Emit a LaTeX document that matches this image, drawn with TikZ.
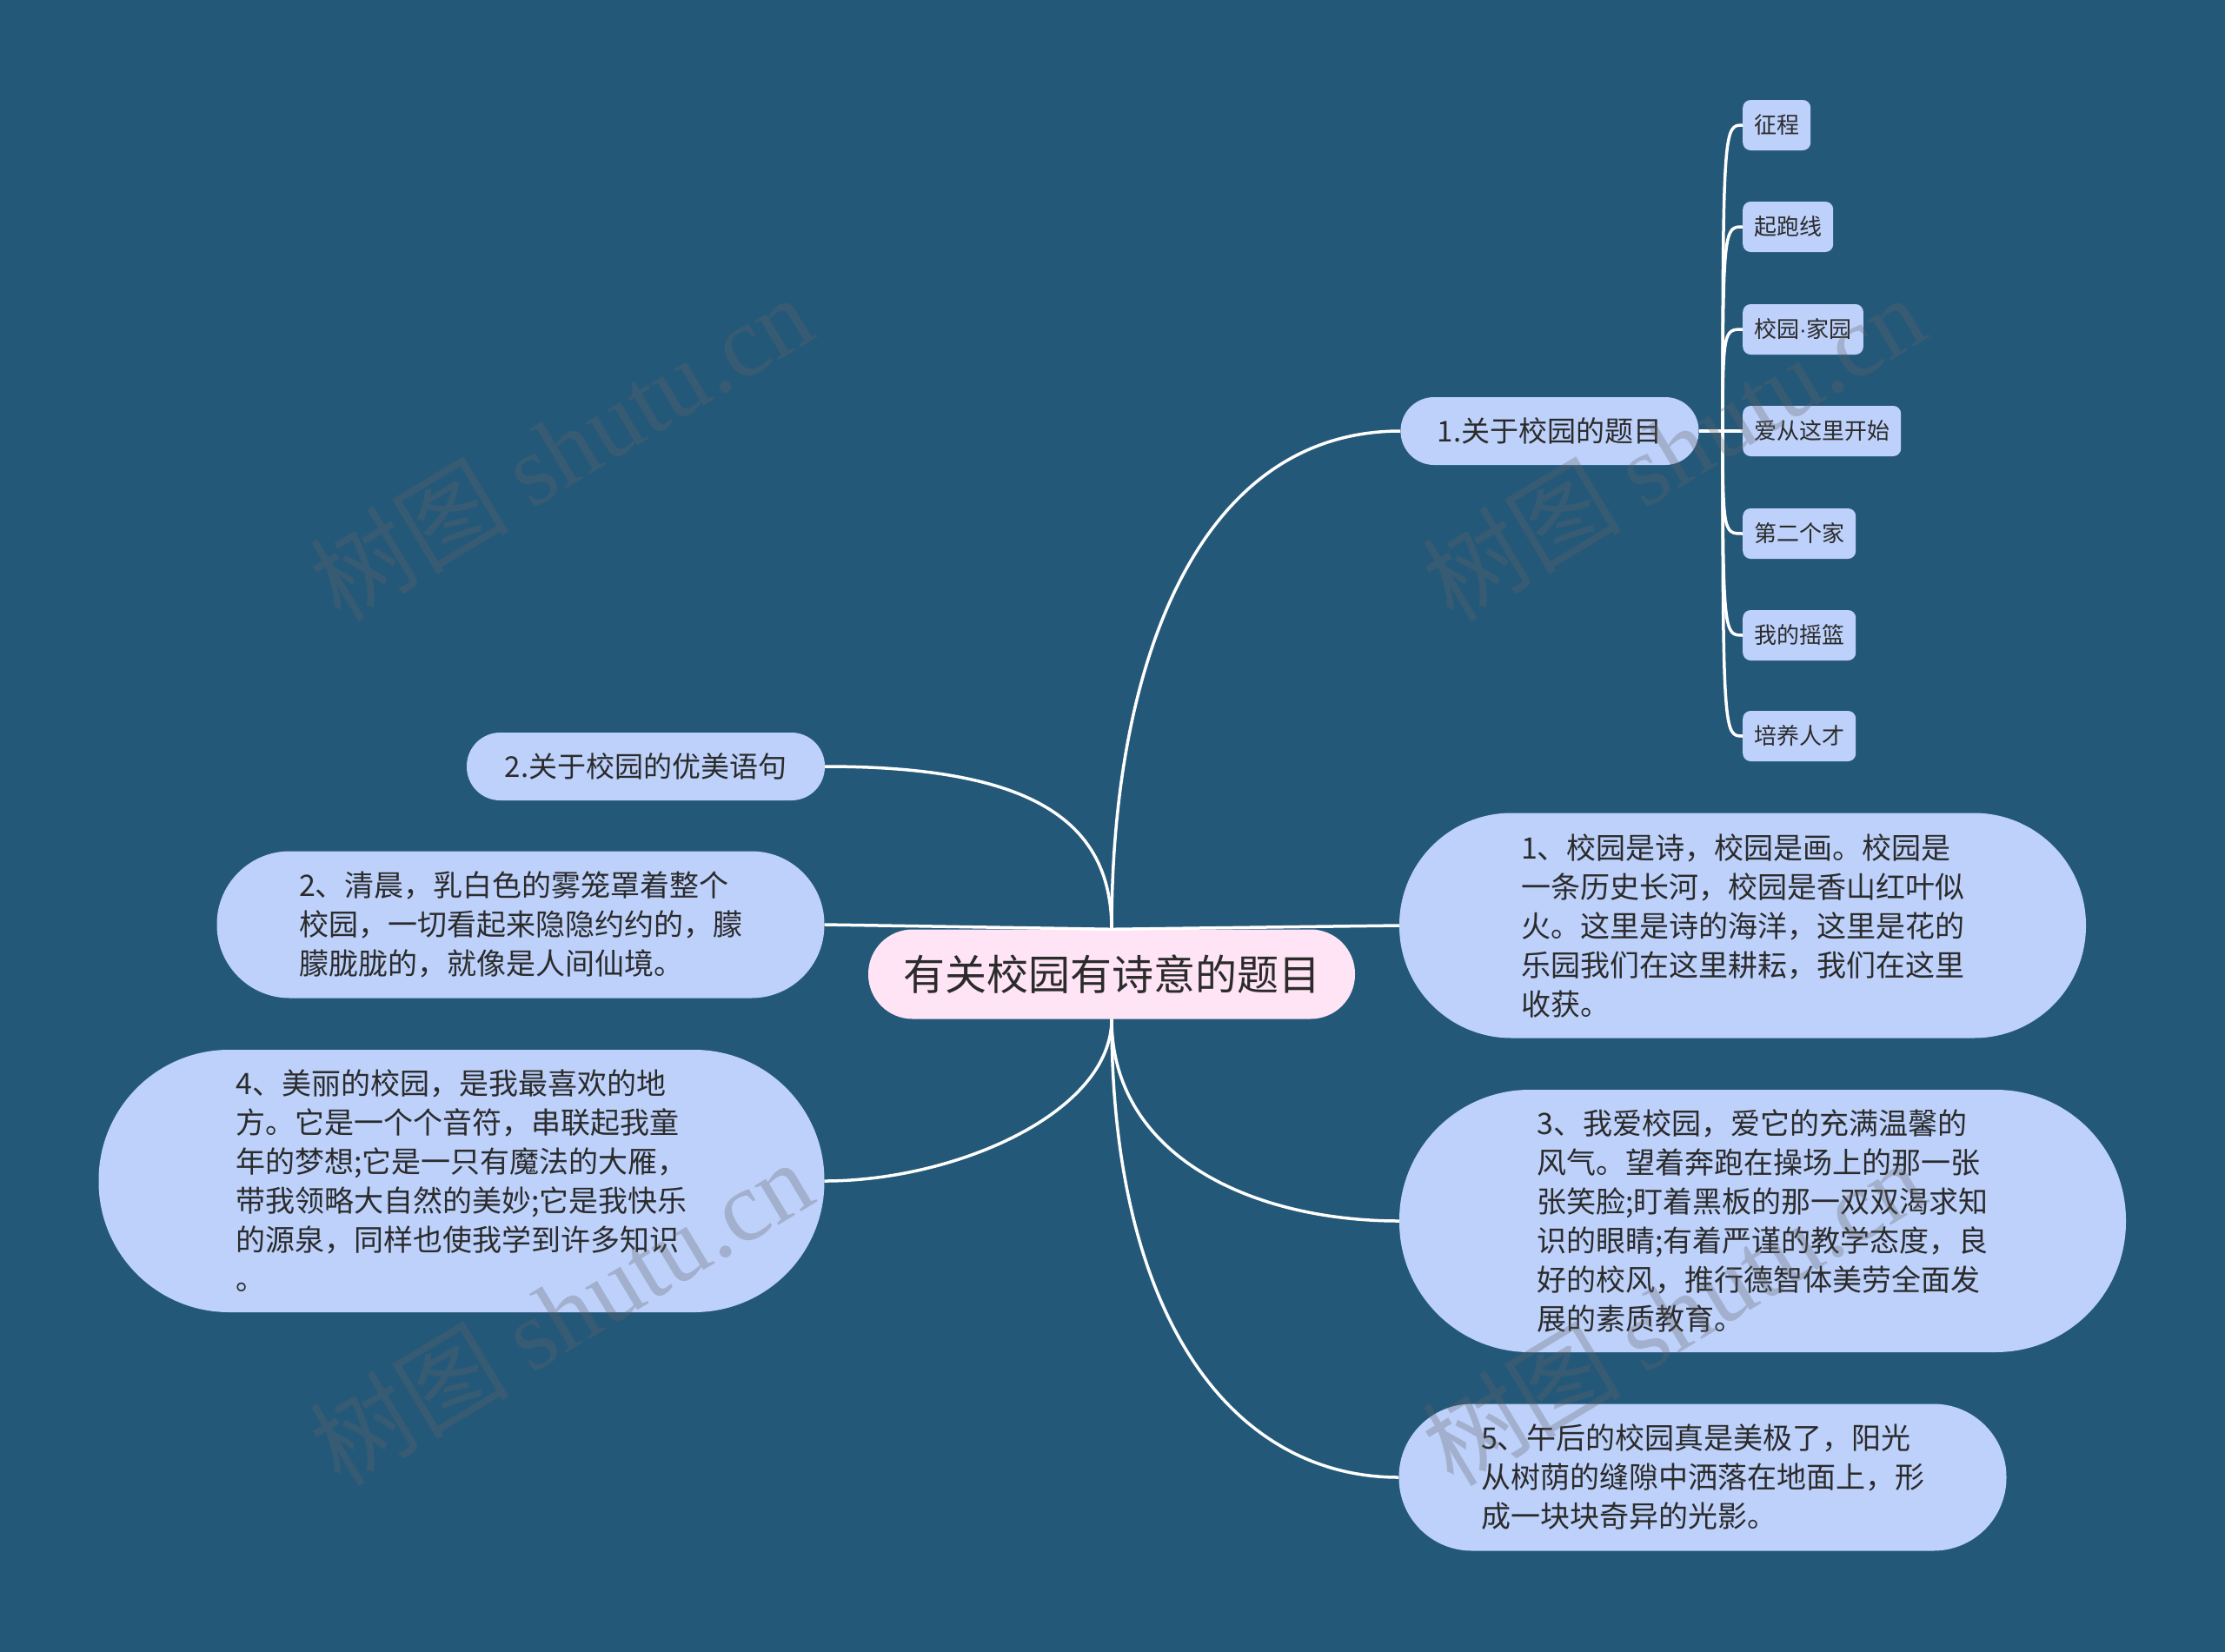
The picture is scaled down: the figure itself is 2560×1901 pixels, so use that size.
\documentclass[tikz,border=0pt]{standalone}
\usepackage{fontspec}
\setmainfont{Noto Sans CJK SC}
\newfontfamily\wmserif{Liberation Serif}
\newfontfamily\latinsans{Liberation Sans}
\definecolor{bgc}{HTML}{245879}
\definecolor{subfill}{HTML}{BDD1FB}
\definecolor{mainfill}{HTML}{FFE4F5}
\definecolor{txt}{HTML}{2B2B2B}
\definecolor{wm}{HTML}{646464}
\newcommand{\myfs}[2]{\fontsize{#1}{#2}\selectfont}
\begin{document}
\begin{tikzpicture}[x=1pt,y=-1pt,
  conn/.style={draw=white,line width=3.5pt},
  basebox/.style={inner sep=0pt,text=txt,align=left,fill=subfill},
  topicbox/.style={basebox,fill=mainfill,minimum width=560pt,minimum height=103pt,rounded corners=51pt,font=\myfs{48}{58}},
  headbox/.style={basebox,minimum height=78pt,rounded corners=38.5pt,font=\myfs{33}{40}},
  leafbox/.style={basebox,anchor=west,minimum height=58pt,inner xsep=13pt,rounded corners=9pt,font=\myfs{26}{30}},
  bigbox/.style={basebox,font=\myfs{34}{45}},
  wmark/.style={rotate=31,text=wm,opacity=0.3,font=\myfs{115}{125}}
]
\fill[bgc] (0,0) rectangle (2560,1901);
\useasboundingbox (0,0) rectangle (2560,1901);

% nodes
\node[topicbox] (c) at (1279,1121) {有关校园有诗意的题目};
\node[headbox,minimum width=343pt] (n1) at (1783,496) {1.关于校园的题目};
\node[headbox,minimum width=412pt] (l2) at (743,882) {2.关于校园的优美语句};

\node[leafbox] (a1) at (2005,144) {征程};
\node[leafbox] (a2) at (2005,261) {起跑线};
\node[leafbox] (a3) at (2005,379) {校园{\latinsans ·}家园};
\node[leafbox] (a4) at (2005,496) {爱从这里开始};
\node[leafbox] (a5) at (2005,614) {第二个家};
\node[leafbox] (a6) at (2005,731) {我的摇篮};
\node[leafbox] (a7) at (2005,847) {培养人才};

\node[bigbox,minimum width=790pt,minimum height=259pt,rounded corners=129pt] (r1) at (2005,1065)
 {1、校园是诗，校园是画。校园是\\一条历史长河，校园是香山红叶似\\火。这里是诗的海洋，这里是花的\\乐园我们在这里耕耘，我们在这里\\收获。};
\node[bigbox,minimum width=836pt,minimum height=302pt,rounded corners=150pt] (r3) at (2028,1405)
 {3、我爱校园，爱它的充满温馨的\\风气。望着奔跑在操场上的那一张\\张笑脸;盯着黑板的那一双双渴求知\\识的眼睛;有着严谨的教学态度，良\\好的校风，推行德智体美劳全面发\\展的素质教育。};
\node[bigbox,minimum width=699pt,minimum height=169pt,rounded corners=84pt] (r5) at (1959,1700)
 {5、午后的校园真是美极了，阳光\\从树荫的缝隙中洒落在地面上，形\\成一块块奇异的光影。};
\node[bigbox,minimum width=699pt,minimum height=169pt,rounded corners=84pt] (l1) at (599,1064)
 {2、清晨，乳白色的雾笼罩着整个\\校园，一切看起来隐隐约约的，朦\\朦胧胧的，就像是人间仙境。};
\node[bigbox,minimum width=835pt,minimum height=302pt,rounded corners=150pt] (l4) at (531,1359)
 {4、美丽的校园，是我最喜欢的地\\方。它是一个个音符，串联起我童\\年的梦想;它是一只有魔法的大雁，\\带我领略大自然的美妙;它是我快乐\\的源泉，同样也使我学到许多知识\\。};

% connectors
\coordinate (hub) at (1982,496);
\draw[conn] (c.north) .. controls (1279,760) and (1380,496) .. (n1.west);
\draw[conn] (c.north) .. controls (1279,940) and (1180,882) .. (l2.east);
\draw[conn] (c.north) -- (l1.east);
\draw[conn] (c.north) -- (r1.west);
\draw[conn] (c.south) .. controls (1279,1330) and (1440,1405) .. (r3.west);
\draw[conn] (c.south) .. controls (1279,1520) and (1420,1700) .. (r5.west);
\draw[conn] (c.south) .. controls (1279,1280) and (1100,1359) .. (l4.east);

\draw[conn] (n1.east) -- (hub);
\draw[conn] (hub) .. controls (1982,144) and (1984,144) .. (a1.west);
\draw[conn] (hub) .. controls (1982,261) and (1984,261) .. (a2.west);
\draw[conn] (hub) .. controls (1982,379) and (1984,379) .. (a3.west);
\draw[conn] (hub) -- (a4.west);
\draw[conn] (hub) .. controls (1982,614) and (1984,614) .. (a5.west);
\draw[conn] (hub) .. controls (1982,731) and (1984,731) .. (a6.west);
\draw[conn] (hub) .. controls (1982,847) and (1984,847) .. (a7.west);

% watermarks
\node[wmark] (w1) at (645,515) {树图 {\wmserif shutu.cn}};
\node[wmark] (w2) at (1925,515) {树图 {\wmserif shutu.cn}};
\node[wmark] (w3) at (645,1510) {树图 {\wmserif shutu.cn}};
\node[wmark] (w4) at (1925,1510) {树图 {\wmserif shutu.cn}};
\end{tikzpicture}
\end{document}
